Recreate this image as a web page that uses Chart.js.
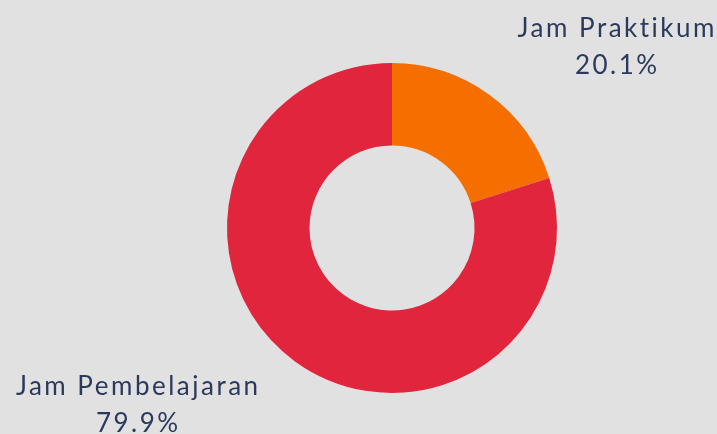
<!DOCTYPE html>
<html lang="id">
<head>
    <meta charset="UTF-8">
    <title>Jam Praktikum vs Jam Pembelajaran</title>
    <script src="https://cdn.jsdelivr.net/npm/chart.js"></script>
    <style>
        html, body { margin: 0; padding: 0; background: #e1e1e1; }
        #wrap { width: 717px; height: 434px; }
    </style>
</head>
<body>
    <div id="wrap"><canvas id="donutChart" width="717" height="434"></canvas></div>

    <script>
        // data
        const labels = ['Jam Praktikum', 'Jam Pembelajaran'];
        const values = [20.1, 79.9];
        const colors = ['#f56f00', '#e0253d'];

        // label positions (baseline of first line) relative to donut center
        const labelOffsets = [
            { dx: 224, dy: -191 },
            { dx: -255, dy: 167 }
        ];

        const outsideLabels = {
            id: 'outsideLabels',
            afterDraw(chart) {
                const ctx = chart.ctx;
                const arc = chart.getDatasetMeta(0).data[0];
                const spacing = 2.5;
                ctx.save();
                ctx.fillStyle = '#2b3a5c';
                ctx.textAlign = 'center';
                ctx.textBaseline = 'alphabetic';
                ctx.font = '26px Lato';
                ctx.letterSpacing = spacing + 'px';
                labels.forEach((lab, i) => {
                    const x = arc.x + labelOffsets[i].dx + spacing / 2;
                    const y = arc.y + labelOffsets[i].dy;
                    ctx.fillText(lab, x, y);
                    ctx.fillText(values[i].toFixed(1) + '%', x, y + 37);
                });
                ctx.restore();
            }
        };

        const ctx = document.getElementById('donutChart').getContext('2d');
        new Chart(ctx, {
            type: 'doughnut',
            data: {
                labels: labels,
                datasets: [{
                    data: values,
                    backgroundColor: colors,
                    borderWidth: 0
                }]
            },
            options: {
                responsive: false,
                animation: false,
                cutout: '50%',
                layout: { padding: { top: 63, bottom: 41, left: 227, right: 160 } },
                plugins: {
                    legend: { display: false },
                    tooltip: { enabled: false }
                }
            },
            plugins: [outsideLabels]
        });
    </script>
</body>
</html>
